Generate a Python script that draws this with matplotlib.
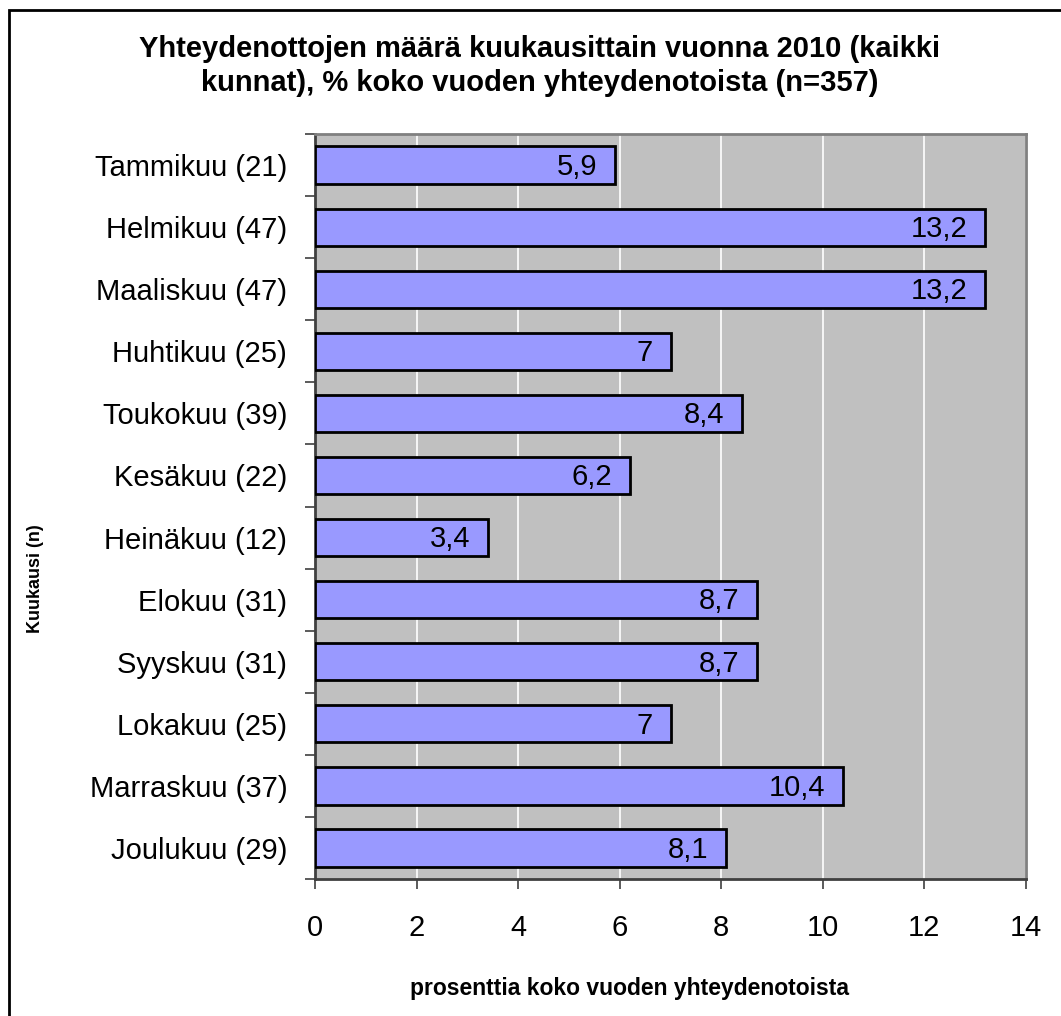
import matplotlib.pyplot as plt
from matplotlib.patches import Rectangle

plt.rcParams['font.family'] = ['Liberation Sans', 'DejaVu Sans']

# Months with counts, percentage of the year's contacts
months = ['Tammikuu (21)', 'Helmikuu (47)', 'Maaliskuu (47)', 'Huhtikuu (25)',
          'Toukokuu (39)', 'Kesäkuu (22)', 'Heinäkuu (12)', 'Elokuu (31)',
          'Syyskuu (31)', 'Lokakuu (25)', 'Marraskuu (37)', 'Joulukuu (29)']
percent = [5.9, 13.2, 13.2, 7, 8.4, 6.2, 3.4, 8.7, 8.7, 7, 10.4, 8.1]
value_labels = ['5,9', '13,2', '13,2', '7', '8,4', '6,2', '3,4', '8,7', '8,7', '7', '10,4', '8,1']
x_ticks = [0, 2, 4, 6, 8, 10, 12, 14]

fig = plt.figure(figsize=(10.61, 10.16), dpi=100)
ax = fig.add_axes([315 / 1061, 1 - 879 / 1016, (1026 - 315) / 1061, (879 - 134) / 1016])

# Outer chart border (top and left visible, rest cut off)
fig.add_artist(Rectangle((9 / 1061, -0.05), 1.2, 1 - 10 / 1016 + 0.05,
                         transform=fig.transFigure, fill=False,
                         edgecolor='black', linewidth=2))

ax.set_facecolor('#C0C0C0')
pos = list(range(len(months)))
bars = ax.barh(pos, percent, height=0.6, color='#9999FF', edgecolor='black',
               linewidth=2, zorder=3)

for i, (v, lab) in enumerate(zip(percent, value_labels)):
    ax.text(v - 0.35, i + 0.03, lab, ha='right', va='center', fontsize=21, zorder=4)

ax.set_xlim(0, 14)
ax.set_ylim(len(months) - 0.5, -0.5)
ax.set_xticks(x_ticks)
ax.set_xticklabels([str(t) for t in x_ticks], fontsize=21)
ax.set_yticks(pos)
ax.set_yticklabels(months, fontsize=21)
ax.set_yticks([p - 0.5 for p in pos] + [len(months) - 0.5], minor=True)
ax.tick_params(axis='y', which='major', length=0, pad=20)
ax.tick_params(axis='y', which='minor', length=7, width=1.2, color='#404040')
ax.tick_params(axis='x', length=7, width=1.2, color='#404040', pad=18)

ax.grid(axis='x', color='white', linewidth=1.2, zorder=1)
ax.set_axisbelow(True)

for side in ['left', 'bottom']:
    ax.spines[side].set_color('#404040')
    ax.spines[side].set_linewidth(2)
for side in ['top', 'right']:
    ax.spines[side].set_color('#808080')
    ax.spines[side].set_linewidth(2)

fig.text(629 / 1061, 1 - 988 / 1016, 'prosenttia koko vuoden yhteydenotoista',
         fontsize=16.5, fontweight='bold', ha='center', va='center')
fig.text(35 / 1061, 1 - 579 / 1016, 'Kuukausi (n)', rotation=90, fontsize=13,
         fontweight='bold', ha='center', va='center')

fig.text(540 / 1061, 1 - 66 / 1016,
         'Yhteydenottojen määrä kuukausittain vuonna 2010 (kaikki\nkunnat), % koko vuoden yhteydenotoista (n=357)',
         ha='center', va='center', fontsize=21, fontweight='bold', linespacing=1.25)

fig.savefig('out.png', dpi=100)
